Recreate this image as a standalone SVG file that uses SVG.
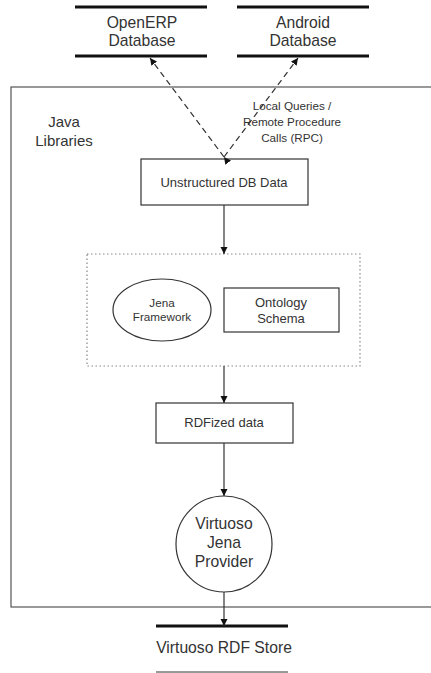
<svg xmlns="http://www.w3.org/2000/svg" width="431" height="673" viewBox="0 0 431 673">
<defs>
<style>
text{font-family:"Liberation Sans",Arial,sans-serif;fill:#333;text-anchor:middle}
.t15{font-size:15px}
.t16{font-size:15.7px}
.t13{font-size:13px}
.t12{font-size:11.7px}
.box{fill:#fff;stroke:#333;stroke-width:1.2}
.db{stroke:#111;stroke-width:3;fill:none}
.ln{stroke:#333;stroke-width:1.2;fill:none}
.dash{stroke:#333;stroke-width:1.2;fill:none;stroke-dasharray:6,4}
</style>
<marker id="ah" markerWidth="8" markerHeight="8" refX="7" refY="4" orient="auto" markerUnits="userSpaceOnUse">
<path d="M0,0.5 L7,4 L0,7.5 z" fill="#111"/>
</marker>
</defs>
<rect width="431" height="673" fill="#fff"/>
<g id="java-libraries">
<rect x="11" y="87" width="430" height="520" fill="none" stroke="#555" stroke-width="1.2"/>
<text class="t15" x="64" y="127">Java</text>
<text class="t15" x="64" y="146">Libraries</text>
</g>
<g id="openerp-db">
<line class="db" x1="75" y1="7" x2="207" y2="7"/>
<line class="db" x1="75" y1="56" x2="207" y2="56"/>
<text class="t16" x="142" y="28">OpenERP</text>
<text class="t16" x="142" y="46">Database</text>
</g>
<g id="android-db">
<line class="db" x1="237" y1="7" x2="369" y2="7"/>
<line class="db" x1="237" y1="56" x2="369" y2="56"/>
<text class="t16" x="303" y="28">Android</text>
<text class="t16" x="303" y="46">Database</text>
</g>
<g id="unstructured">
<rect class="box" x="141" y="159" width="167" height="46"/>
<text class="t13" x="224" y="187">Unstructured DB Data</text>
</g>
<g id="ontology-group">
<rect x="87" y="254" width="273" height="112" fill="none" stroke="#888" stroke-width="1.2" stroke-dasharray="1.5,2.5"/>
</g>
<g id="jena-framework">
<ellipse class="box" cx="162" cy="310" rx="49" ry="31"/>
<text class="t12" x="162" y="307">Jena</text>
<text class="t12" x="162" y="321">Framework</text>
</g>
<g id="ontology-schema">
<rect class="box" x="224" y="288" width="115" height="44"/>
<text class="t13" x="281" y="307">Ontology</text>
<text class="t13" x="281" y="323">Schema</text>
</g>
<g id="rdfized">
<rect class="box" x="156" y="403" width="137" height="40"/>
<text class="t13" x="224" y="427">RDFized data</text>
</g>
<g id="virtuoso-provider">
<circle class="box" cx="224" cy="544" r="48"/>
<text class="t16" x="224" y="529">Virtuoso</text>
<text class="t16" x="224" y="548">Jena</text>
<text class="t16" x="224" y="567">Provider</text>
</g>
<g id="rdf-store">
<line class="db" x1="156" y1="626" x2="288" y2="626"/>
<line x1="156" y1="672" x2="288" y2="672" stroke="#333" stroke-width="1"/>
<text class="t16" x="224" y="653">Virtuoso RDF Store</text>
</g>
<g id="connectors">
<line class="dash" x1="224" y1="157" x2="150" y2="58" marker-end="url(#ah)" marker-start="url(#ah)"/>
<line class="dash" x1="224" y1="157" x2="298" y2="58" marker-end="url(#ah)"/>
<line class="ln" x1="224" y1="205" x2="224" y2="254" marker-end="url(#ah)"/>
<line class="ln" x1="224" y1="366" x2="224" y2="403" marker-end="url(#ah)"/>
<line class="ln" x1="224" y1="443" x2="224" y2="496" marker-end="url(#ah)"/>
<line class="ln" x1="224" y1="592" x2="224" y2="626" marker-end="url(#ah)"/>
<text class="t12" x="292" y="110">Local Queries /</text>
<text class="t12" x="292" y="126">Remote Procedure</text>
<text class="t12" x="292" y="142">Calls (RPC)</text>
</g>
</svg>
